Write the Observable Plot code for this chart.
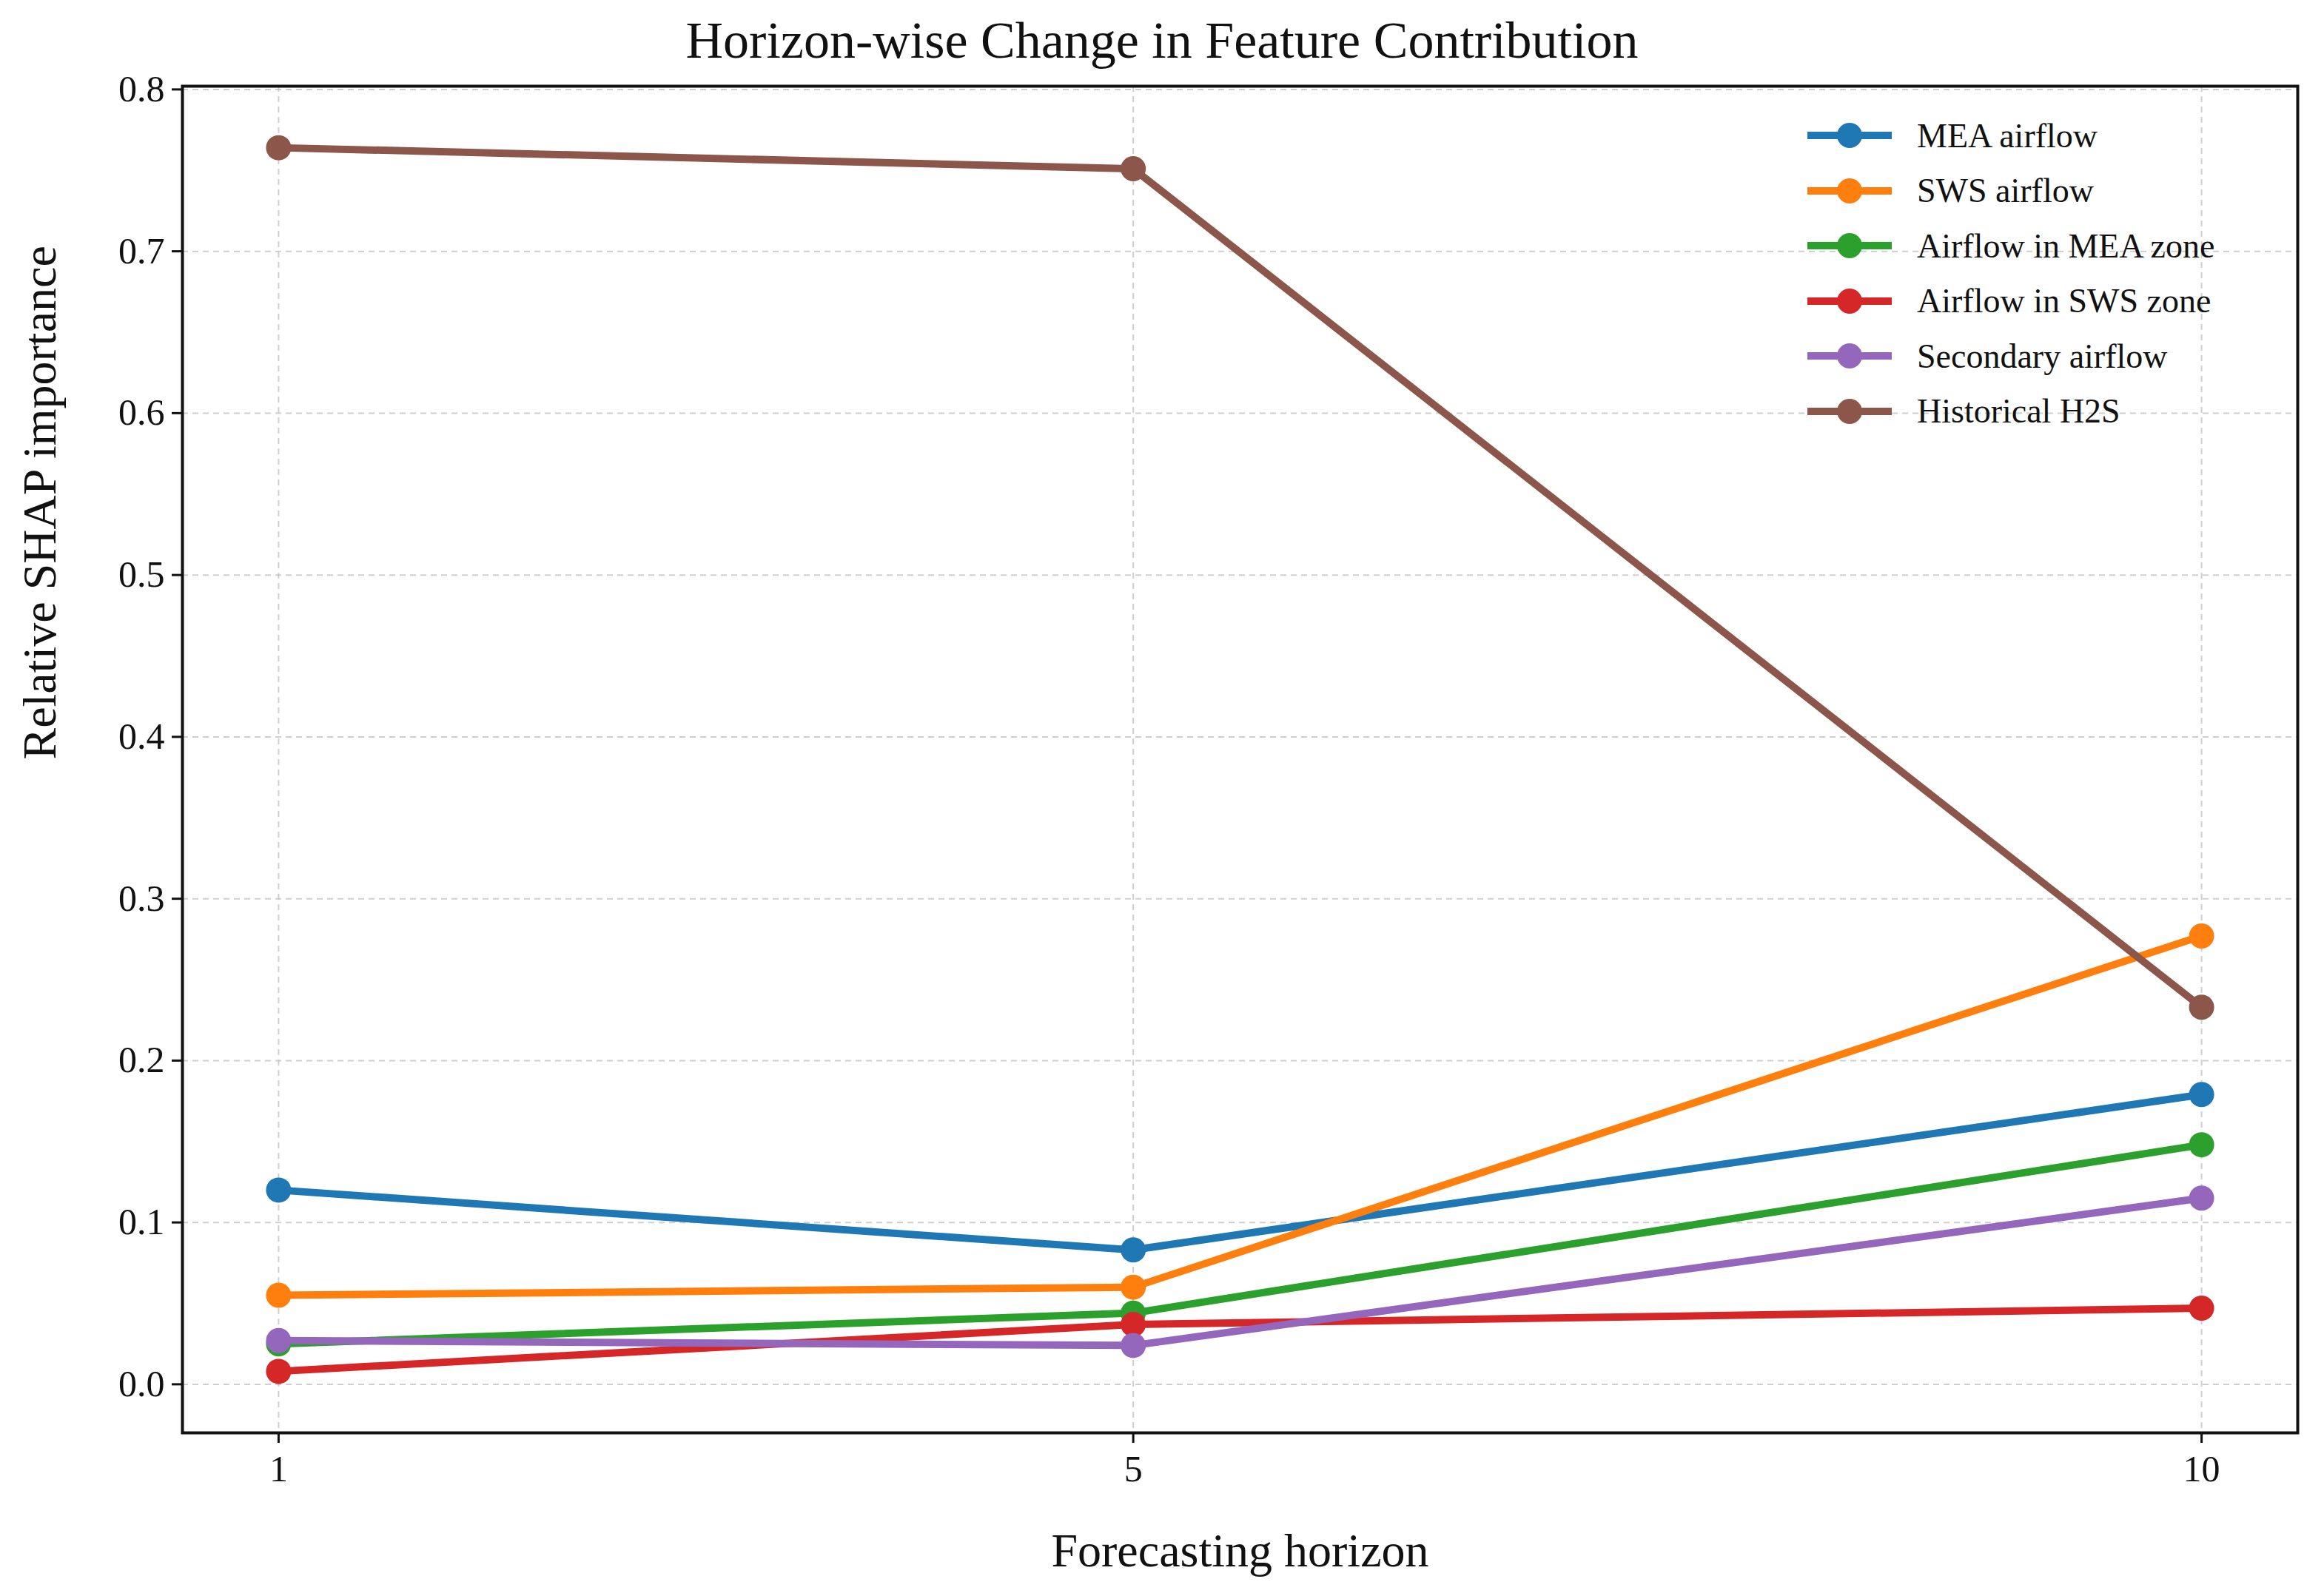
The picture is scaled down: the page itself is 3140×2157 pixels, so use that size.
<!DOCTYPE html>
<html><head><meta charset="utf-8">
<script src="https://cdn.jsdelivr.net/npm/d3@7"></script>
<script src="https://cdn.jsdelivr.net/npm/@observablehq/plot@0.6"></script>
<style>
body{margin:0;background:#fff;font-family:"Liberation Serif","DejaVu Serif",serif;}
#wrap{position:relative;width:3140px;height:2157px;}
#title{height:100px;line-height:110px;text-align:center;font-size:70px;color:#111;}
#legend{position:absolute;left:2440px;top:146px;font-size:46px;color:#111;}
.row{display:flex;align-items:center;height:74.5px;}
.row span{margin-left:32px;}
svg text{font-family:"Liberation Serif","DejaVu Serif",serif !important;}
</style></head>
<body><div id="wrap"><div id="title">Horizon-wise Change in Feature Contribution</div><div id="chart"></div><div id="legend"></div></div>
<script>
const horizons = [1, 5, 10];
const seriesNames = ["MEA airflow","SWS airflow","Airflow in MEA zone","Airflow in SWS zone","Secondary airflow","Historical H2S"];
const colors = ["#1f77b4","#ff7f0e","#2ca02c","#d62728","#9467bd","#8c564b"];
const meaAirflow = [0.120, 0.083, 0.179];
const swsAirflow = [0.055, 0.060, 0.277];
const airflowMeaZone = [0.025, 0.044, 0.148];
const airflowSwsZone = [0.008, 0.037, 0.047];
const secondaryAirflow = [0.027, 0.024, 0.115];
const historicalH2S = [0.764, 0.751, 0.233];
const yTicks = [0,0.1,0.2,0.3,0.4,0.5,0.6,0.7,0.8];

const all = [meaAirflow, swsAirflow, airflowMeaZone, airflowSwsZone, secondaryAirflow, historicalH2S];
const data = [];
all.forEach((vals, i) => vals.forEach((v, j) => data.push({h: horizons[j], v, s: seriesNames[i]})));

const plot = Plot.plot({
  width: 3140, height: 2057,
  marginTop: 16, marginBottom: 221, marginLeft: 246, marginRight: 36,
  style: {fontFamily: "Liberation Serif, serif", fontSize: "48px", color: "#111", background: "#fff", overflow: "visible"},
  x: {domain: [0.55, 10.45], label: null},
  y: {domain: [-0.03, 0.802], label: null},
  color: {domain: seriesNames, range: colors},
  marks: [
    Plot.gridX(horizons, {stroke: "#bbb", strokeOpacity: 0.7, strokeDasharray: "8,6", strokeWidth: 2}),
    Plot.gridY(yTicks, {stroke: "#bbb", strokeOpacity: 0.7, strokeDasharray: "8,6", strokeWidth: 2}),
    Plot.line(data, {x: "h", y: "v", z: "s", stroke: "s", strokeWidth: 10}),
    Plot.dot(data, {x: "h", y: "v", fill: "s", r: 17}),
    Plot.axisX({ticks: horizons, tickFormat: d => d, tickSize: 14, tickPadding: 16, strokeWidth: 3, label: null, fontSize: 50, fill: "#111"}),
    Plot.axisY({ticks: yTicks, tickSize: 14, tickPadding: 10, strokeWidth: 3, tickFormat: d3.format(".1f"), label: null, fontSize: 50, fill: "#111"}),
    Plot.frame({stroke: "#111", strokeWidth: 4}),
    Plot.text(["Forecasting horizon"], {frameAnchor: "bottom", dy: 180, fontSize: 64, fill: "#111"}),
    Plot.text(["Relative SHAP importance"], {frameAnchor: "left", dx: -192, rotate: -90, fontSize: 64, fill: "#111"})
  ]
});
document.getElementById("chart").appendChild(plot);

const leg = document.getElementById("legend");
seriesNames.forEach((n, i) => {
  leg.insertAdjacentHTML("beforeend",
    `<div class="row"><svg width="118" height="40"><line x1="2" x2="116" y1="20" y2="20" stroke="${colors[i]}" stroke-width="10"/><circle cx="59" cy="20" r="17" fill="${colors[i]}"/></svg><span>${n}</span></div>`);
});
</script></body></html>
